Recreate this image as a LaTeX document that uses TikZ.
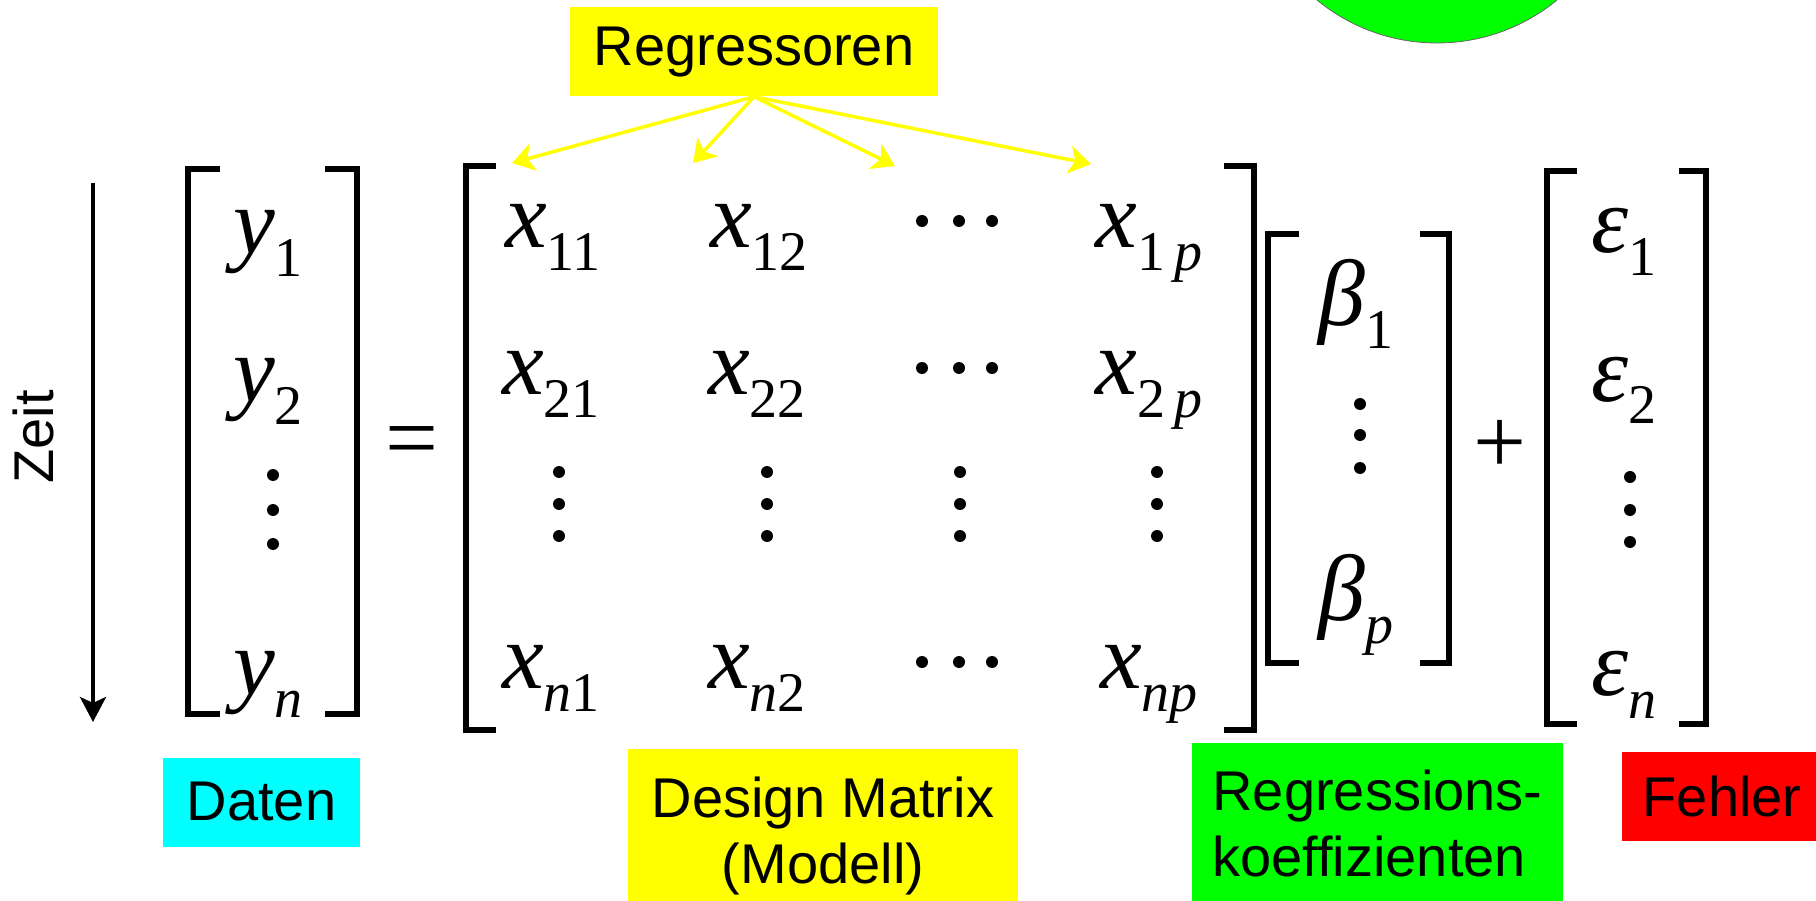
\documentclass[tikz,border=0pt]{standalone}
\usepackage{fontspec}
\setmainfont{Liberation Sans}
\newfontfamily\tnr{Liberation Serif}
\usetikzlibrary{arrows.meta}
\definecolor{labyellow}{RGB}{255,255,0}
\definecolor{labcyan}{RGB}{0,255,255}
\definecolor{labgreen}{RGB}{0,255,0}
\definecolor{labred}{RGB}{255,0,0}
\newcommand{\msz}{\fontsize{94}{100}\selectfont}
\newcommand{\ssz}{\fontsize{56}{60}\selectfont}
\newcommand{\ent}[2]{{\msz\itshape #1}\raisebox{-23pt}{\ssz #2}}
\begin{document}
\begin{tikzpicture}[x=1pt,y=-1pt,
 lab/.style={fill=#1,inner xsep=24pt,inner ysep=0pt,minimum height=89pt,align=center,font=\fontsize{56}{66}\selectfont},
 mat/.style={inner sep=0pt,anchor=base,font=\tnr},
 sym/.style={inner sep=0pt,font=\tnr\msz},
 brk/.style={line width=5.5pt},
 regarr/.style={labyellow,line width=3.5pt,-{Stealth[length=22pt,width=28pt,inset=6pt]}}]
\useasboundingbox (0,0) rectangle (1816,901);
\draw[fill=labgreen,draw=black!60,line width=0.8pt] (1437,-146) circle (189pt);
% time axis
\node[rotate=90,inner sep=0pt,font=\fontsize{56}{60}\selectfont] (zeit) at (33,437) {Zeit};
\coordinate (zt) at (93,183);
\coordinate (zb) at (93,722);
\draw[line width=4pt,-{Stealth[length=25pt,width=26pt,inset=6pt]}] (zt) -- (zb);
% brackets
\draw[brk] (220,169) -| (188,714) -- (220,714);
\draw[brk] (325,169) -| (357,714) -- (325,714);
\draw[brk] (496,166) -| (466,730) -- (496,730);
\draw[brk] (1224,166) -| (1254,730) -- (1224,730);
\draw[brk] (1299,234) -| (1268,663) -- (1299,663);
\draw[brk] (1420,234) -| (1449,663) -- (1420,663);
\draw[brk] (1577,171) -| (1547,724) -- (1577,724);
\draw[brk] (1679,171) -| (1706,724) -- (1679,724);
% data vector
\node[mat] (y1) at (268,254) {\ent{y}{1}};
\node[mat] (y2) at (268,402) {\ent{y}{2}};
\node[mat] (yn) at (268,694) {\ent{y}{\textit{n}}};
\node[sym] (eq) at (412,448) {=};
% design matrix
\node[mat] (x11) at (553,248) {\ent{x}{11}};
\node[mat] (x12) at (759,248) {\ent{x}{12}};
\node[mat] (x1p) at (1149,248) {\ent{x}{1\,\textit{p}}};
\node[mat] (x21) at (551,395) {\ent{x}{21}};
\node[mat] (x22) at (757,395) {\ent{x}{22}};
\node[mat] (x2p) at (1149,395) {\ent{x}{2\,\textit{p}}};
\node[mat] (xn1) at (551,688) {\ent{x}{\textit{n}1}};
\node[mat] (xn2) at (757,688) {\ent{x}{\textit{n}2}};
\node[mat] (xnp) at (1149,688) {\ent{x}{\textit{np}}};
% coefficients and errors
\node[mat] (b1) at (1356,326) {\ent{β}{1}};
\node[mat] (bp) at (1356,620) {\ent{β}{\textit{p}}};
\node[sym] (plus) at (1500,447) {+};
\node[mat] (e1) at (1624,253) {\ent{ε}{1}};
\node[mat] (e2) at (1624,401) {\ent{ε}{2}};
\node[mat] (en) at (1624,695) {\ent{ε}{\textit{n}}};
% dots
\foreach \y in {475,510,544} \fill (273,\y) circle (6pt);
\foreach \x in {559,767,960,1157} \foreach \y in {472,504,536} \fill (\x,\y) circle (6pt);
\foreach \y in {221,368,662} \foreach \x in {922,959,992} \fill (\x,\y) circle (6pt);
\foreach \y in {404,435,468} \fill (1360,\y) circle (6pt);
\foreach \y in {477,510,542} \fill (1630,\y) circle (6pt);
% labels
\node[lab=labyellow] (regr) at (754,52) {Regressoren};
\node[lab=labcyan] (daten) at (261.5,802) {Daten};
\node[lab=labyellow,minimum height=174pt] (design) at (823,836) {Design Matrix\\(Modell)};
\node[lab=labgreen,align=left,inner xsep=21pt,minimum height=160pt] (koeff) at (1377.5,823) {Regressions-\\koeffizienten};
\node[lab=labred,inner xsep=21pt] (fehler) at (1722,796) {Fehler};
\coordinate (r1) at (512,163);
\coordinate (r2) at (693,163);
\coordinate (r3) at (895,166);
\coordinate (r4) at (1091,164);
\foreach \c in {r1,r2,r3,r4} \draw[regarr] (regr.south) -- (\c);
\end{tikzpicture}
\end{document}
